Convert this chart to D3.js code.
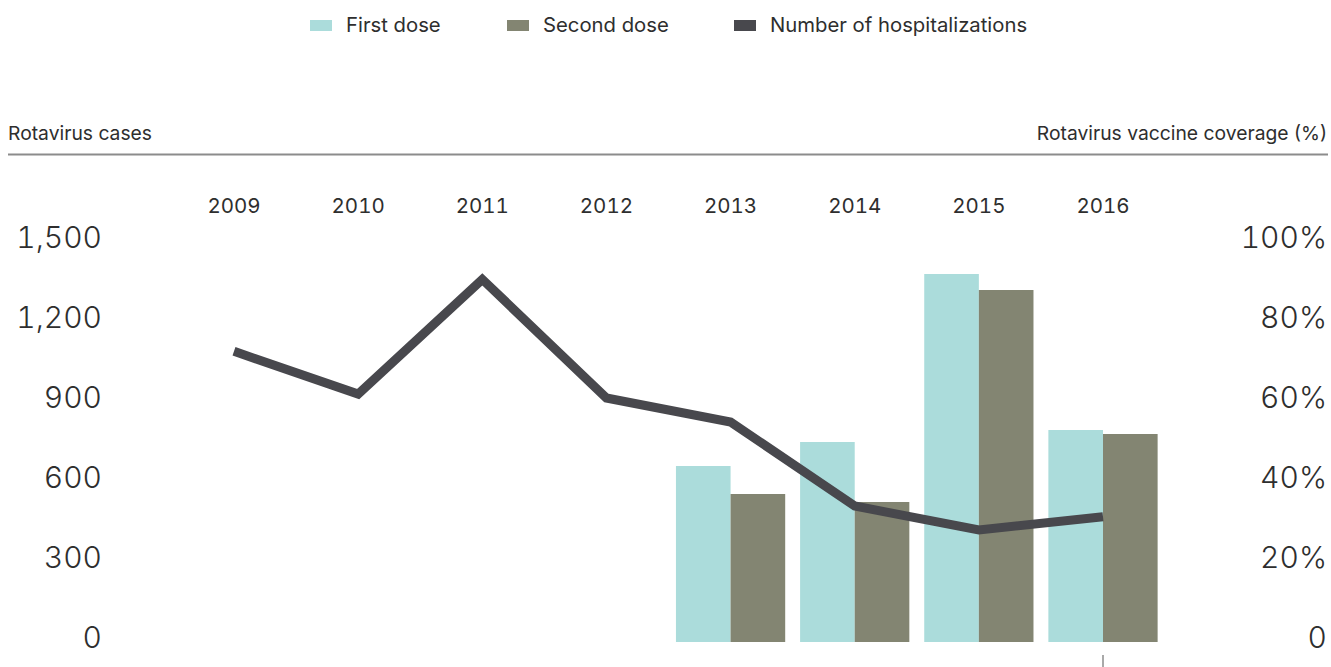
<!DOCTYPE html>
<html>
<head>
<meta charset="utf-8">
<script src="https://cdn.jsdelivr.net/npm/d3@7"></script>
<style>
  body { margin: 0; background: #fff; }
  text { font-family: Inter, Roboto, "Noto Sans", sans-serif; fill: #2e2e2e; }
  .num { font-variant-numeric: tabular-nums; }
</style>
</head>
<body>
<div id="chart"></div>
<script>
// data
var years = ["2009", "2010", "2011", "2012", "2013", "2014", "2015", "2016"]
var hospitalizations = [1090, 930, 1360, 915, 825, 510, 420, 470]
var coverageYears = ["2013", "2014", "2015", "2016"]
var firstDose = [44, 50, 92, 53]
var secondDose = [37, 35, 88, 52]
var casesTicks = [0, 300, 600, 900, 1200, 1500]
var coverageTicks = [0, 20, 40, 60, 80, 100]

var width = 1331, height = 667

var svg = d3.select("#chart")
  .append("svg")
    .attr("width", width)
    .attr("height", height)

// scales
var x = d3.scalePoint()
  .domain(years)
  .range([234, 1103])

var step = x.step()
var inner = d3.scaleBand()
  .domain(["first", "second"])
  .range([-step * 0.44, step * 0.44])

var yCases = d3.scaleLinear()
  .domain([0, 1500])
  .range([642, 242])

var yCov = d3.scaleLinear()
  .domain([0, 100])
  .range([642, 242])

var colors = { first: "#abdcdb", second: "#838572", line: "#48484d" }

// legend
var legendItems = [
  { label: "First dose", color: colors.first, x: 310 },
  { label: "Second dose", color: colors.second, x: 507 },
  { label: "Number of hospitalizations", color: colors.line, x: 734 }
]
var legend = svg.append("g").selectAll("g")
  .data(legendItems)
  .enter().append("g")
    .attr("transform", function(d) { return "translate(" + d.x + ",0)" })
legend.append("rect")
  .attr("y", 20)
  .attr("width", 22)
  .attr("height", 11)
  .attr("fill", function(d) { return d.color })
legend.append("text")
  .attr("x", 36)
  .attr("y", 32)
  .style("font-size", "20.3px")
  .text(function(d) { return d.label })

// axis titles + rule
svg.append("text")
  .attr("x", 8)
  .attr("y", 140)
  .style("font-size", "19.3px")
  .text("Rotavirus cases")
svg.append("text")
  .attr("x", 1327)
  .attr("y", 140)
  .attr("text-anchor", "end")
  .style("font-size", "19.3px")
  .text("Rotavirus vaccine coverage (%)")
svg.append("line")
  .attr("x1", 8).attr("x2", 1328)
  .attr("y1", 154.5).attr("y2", 154.5)
  .attr("stroke", "#8c8c8c")
  .attr("stroke-width", 2)

// year labels on top
svg.append("g")
  .selectAll("text")
  .data(years)
  .enter().append("text")
    .attr("class", "num")
    .attr("x", function(d) { return x(d) })
    .attr("y", 213)
    .attr("text-anchor", "middle")
    .style("font-size", "20.5px")
    .text(function(d) { return d })

// left axis labels
svg.append("g")
  .selectAll("text")
  .data(casesTicks)
  .enter().append("text")
    .attr("class", "num")
    .attr("x", 102)
    .attr("y", function(d) { return yCases(d) + 6 })
    .attr("text-anchor", "end")
    .style("font-size", "30px")
    .style("font-weight", 300)
    .text(function(d) { return d3.format(",")(d) })

// right axis labels
svg.append("g")
  .selectAll("text")
  .data(coverageTicks)
  .enter().append("text")
    .attr("class", "num")
    .attr("x", 1327)
    .attr("y", function(d) { return yCov(d) + 6 })
    .attr("text-anchor", "end")
    .style("font-size", "30px")
    .style("font-weight", 300)
    .text(function(d) { return d === 0 ? "0" : d + "%" })

// bars
var barData = coverageYears.map(function(yr, i) {
  return { year: yr, first: firstDose[i], second: secondDose[i] }
})
var groups = svg.append("g")
  .selectAll("g")
  .data(barData)
  .enter().append("g")
    .attr("transform", function(d) { return "translate(" + x(d.year) + ",0)" })
groups.selectAll("rect")
  .data(function(d) { return ["first", "second"].map(function(k) { return { key: k, value: d[k] } }) })
  .enter().append("rect")
    .attr("x", function(d) { return inner(d.key) })
    .attr("width", inner.bandwidth())
    .attr("y", function(d) { return yCov(d.value) })
    .attr("height", function(d) { return yCov(0) - yCov(d.value) })
    .attr("fill", function(d) { return colors[d.key] })

// hospitalizations line
var line = d3.line()
  .x(function(d, i) { return x(years[i]) })
  .y(function(d) { return yCases(d) })
svg.append("path")
  .datum(hospitalizations)
  .attr("d", line)
  .attr("fill", "none")
  .attr("stroke", colors.line)
  .attr("stroke-width", 9)
  .attr("stroke-linejoin", "miter")

// small tick under last year
svg.append("line")
  .attr("x1", x("2016")).attr("x2", x("2016"))
  .attr("y1", 655).attr("y2", 667)
  .attr("stroke", "#8c8c8c")
  .attr("stroke-width", 1.5)
</script>
</body>
</html>
